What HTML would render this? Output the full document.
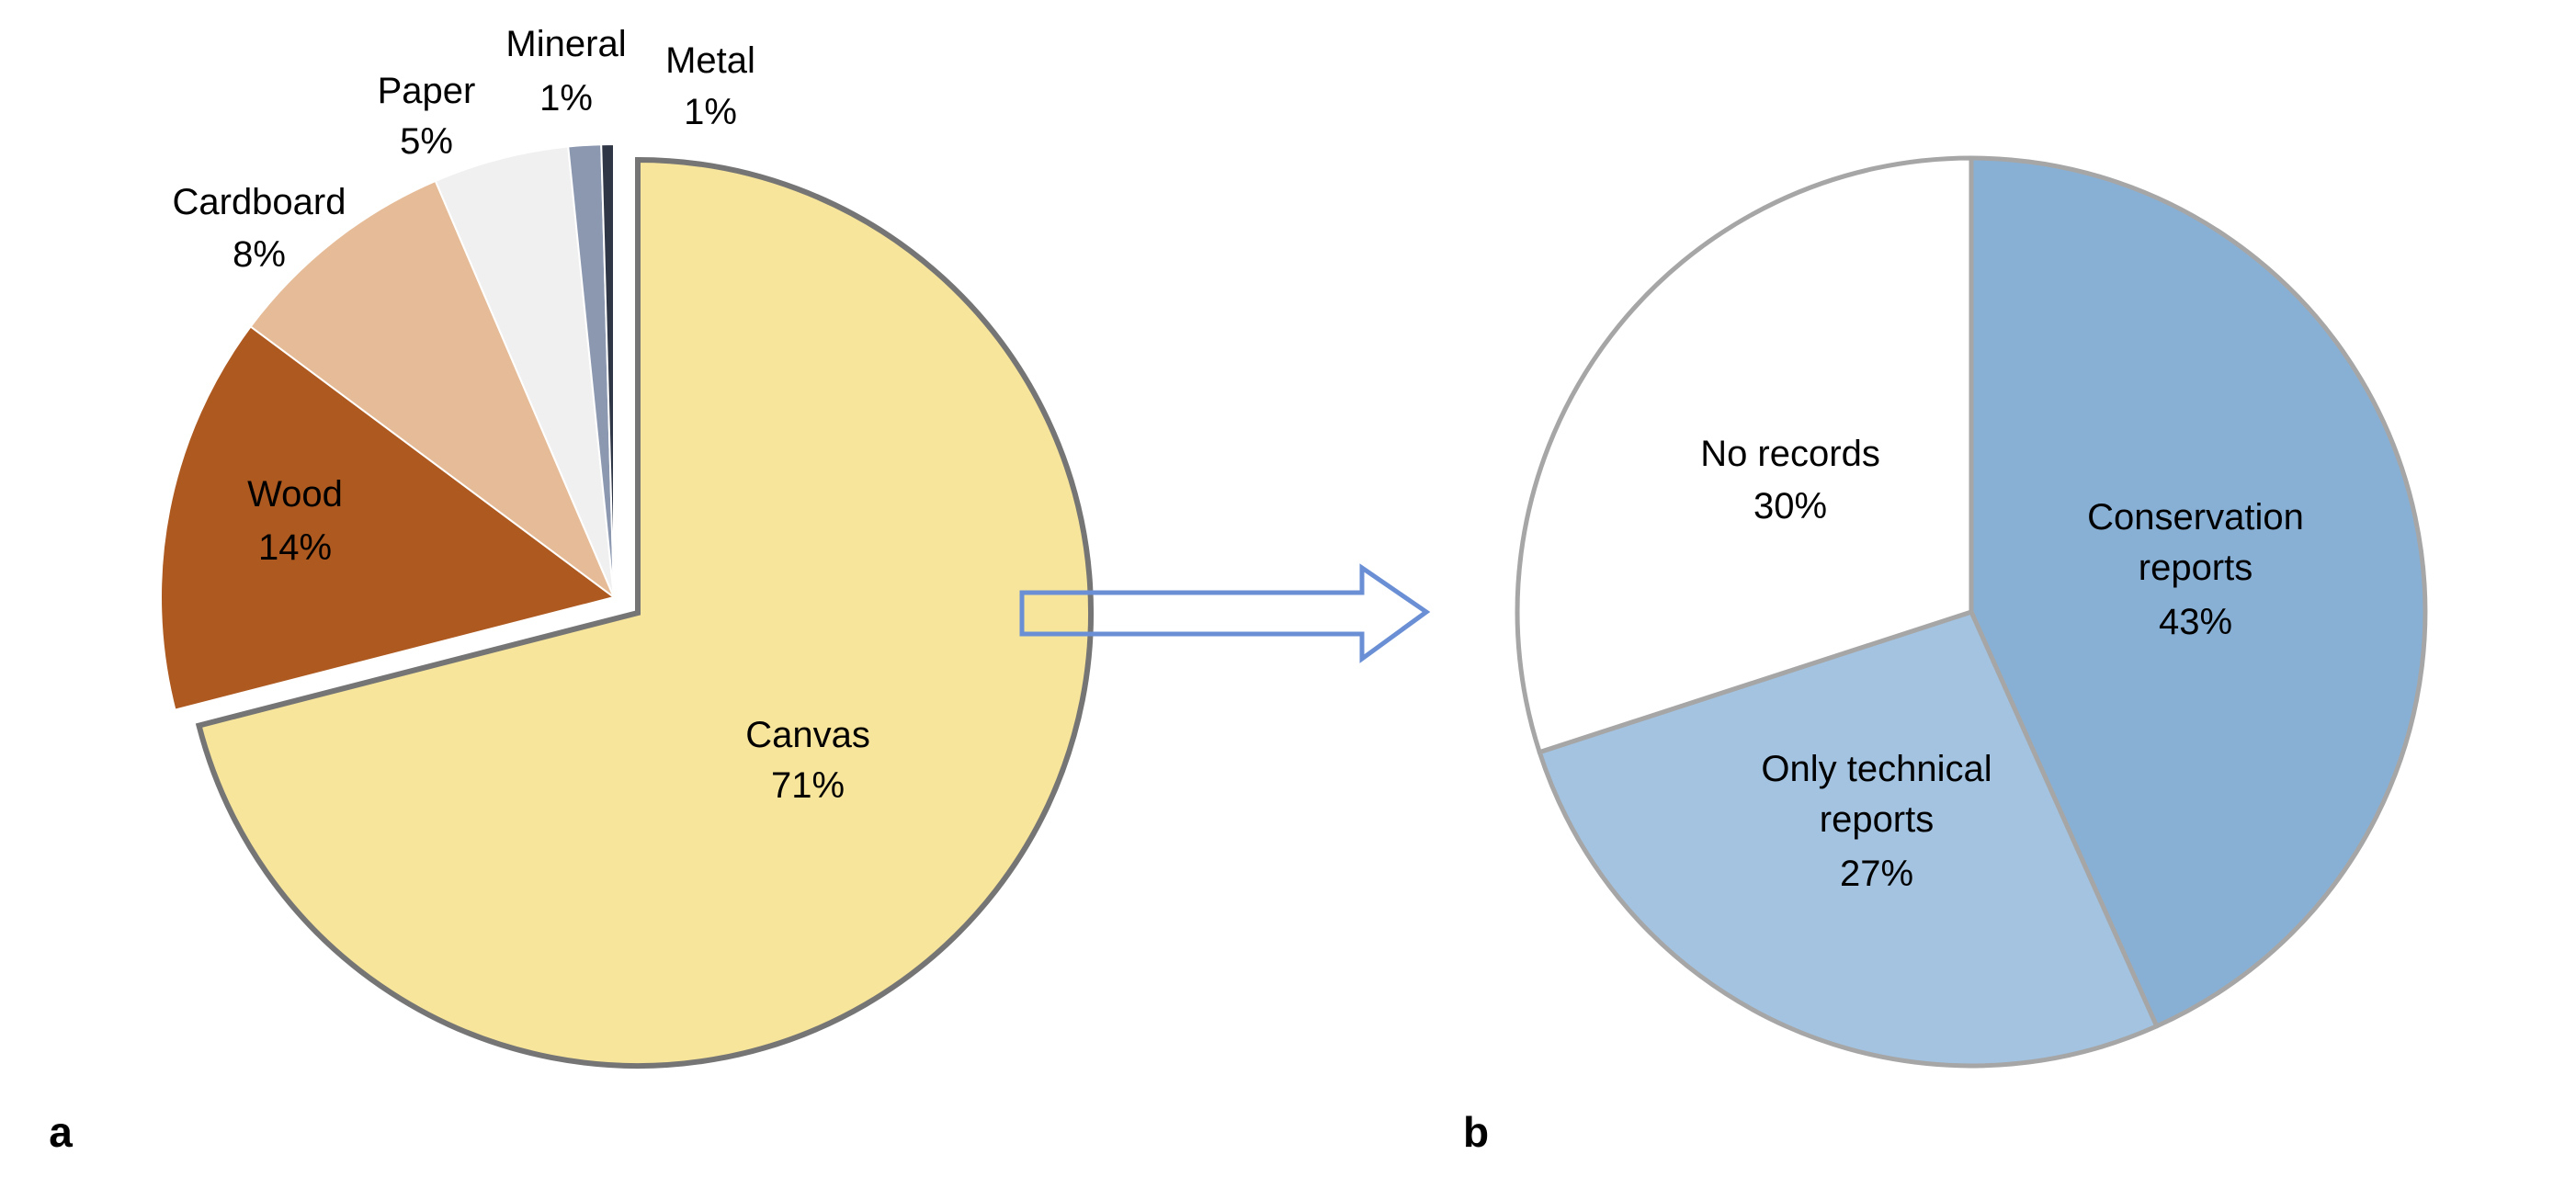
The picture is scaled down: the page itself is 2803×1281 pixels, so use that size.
<!DOCTYPE html>
<html><head><meta charset="utf-8"><style>
html,body{margin:0;padding:0;background:#fff;}
svg{display:block;}
text{font-family:"Liberation Sans",sans-serif;font-size:40px;fill:#000;text-anchor:middle;}
</style></head><body>
<svg width="2803" height="1281" viewBox="0 0 2803 1281" xmlns="http://www.w3.org/2000/svg">
<!-- left pie, other slices -->
<g stroke="#fff" stroke-width="2">
<path d="M668,650 L190.5,772.6 A493,493 0 0 1 272.7,355.4 Z" fill="#ad591f"/>
<path d="M668,650 L272.7,355.4 A493,493 0 0 1 473.8,196.9 Z" fill="#e6bc98"/>
<path d="M668,650 L473.8,196.9 A493,493 0 0 1 618.2,159.5 Z" fill="#f0f0f0"/>
<path d="M668,650 L618.2,159.5 A493,493 0 0 1 654.2,157.2 Z" fill="#8b98b0"/>
<path d="M668,650 L654.2,157.2 A493,493 0 0 1 668,157 Z" fill="#2f3646"/>
</g>
<!-- canvas -->
<path d="M694,667 L694,174 A493,493 0 1 1 216.5,789.6 Z" fill="#f7e59b" stroke="#757575" stroke-width="6"/>
<!-- arrow -->
<path d="M1112,645 L1482,645 L1482,618 L1552,666 L1482,717 L1482,690 L1112,690 Z" fill="none" stroke="#6a8fd4" stroke-width="5"/>
<!-- right pie -->
<g stroke="#a6a6a6" stroke-width="5" stroke-linejoin="round">
<path d="M2145,666 L2145,172 A494,494 0 0 1 2346.7,1116.9 Z" fill="#88b0d5"/>
<path d="M2145,666 L2346.7,1116.9 A494,494 0 0 1 1675.2,818.6 Z" fill="#a3c3e0"/>
<path d="M2145,666 L1675.2,818.6 A494,494 0 0 1 2145,172 Z" fill="#fff"/>
</g>
<!-- labels left -->
<text x="879" y="813">Canvas</text><text x="879" y="868">71%</text>
<text x="321" y="551">Wood</text><text x="321" y="609">14%</text>
<text x="282" y="233">Cardboard</text><text x="282" y="290">8%</text>
<text x="464" y="112">Paper</text><text x="464" y="167">5%</text>
<text x="616" y="61">Mineral</text><text x="616" y="120">1%</text>
<text x="773" y="79">Metal</text><text x="773" y="135">1%</text>
<!-- labels right -->
<text x="1948" y="507">No records</text><text x="1948" y="564">30%</text>
<text x="2389" y="576">Conservation</text><text x="2389" y="631">reports</text><text x="2389" y="690">43%</text>
<text x="2042" y="850">Only technical</text><text x="2042" y="905">reports</text><text x="2042" y="964">27%</text>
<text x="66" y="1248" style="font-weight:bold;font-size:46px">a</text>
<text x="1606" y="1248" style="font-weight:bold;font-size:46px">b</text>
</svg>
</body></html>
